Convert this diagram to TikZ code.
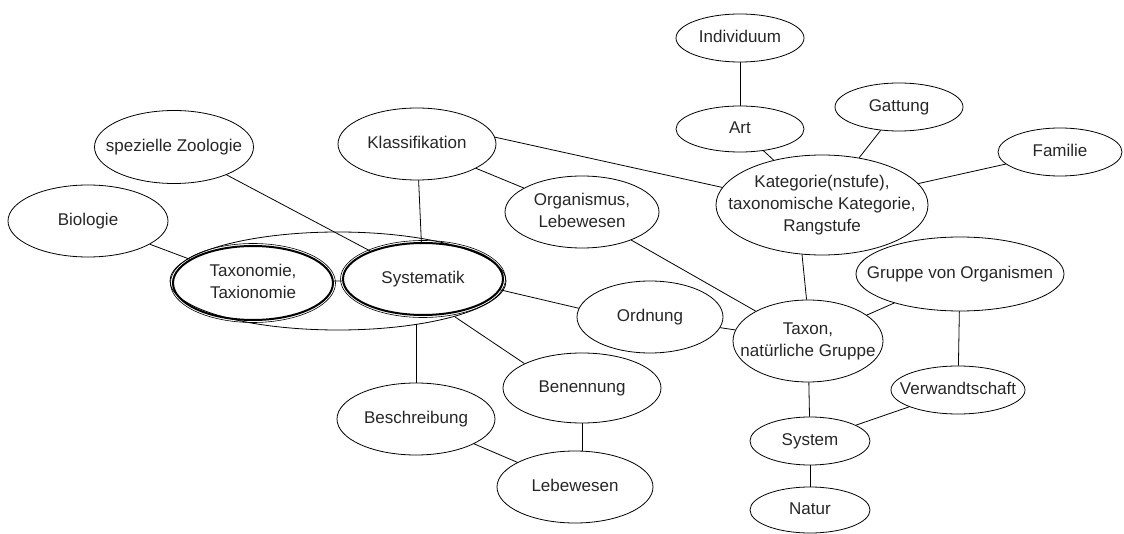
\documentclass[tikz,border=0pt]{standalone}
\usepackage{fontspec}
\setmainfont{Liberation Sans}
\usetikzlibrary{shapes.geometric}
\newcommand\nodetext[1]{\makebox[0pt]{\begin{tabular}{@{}c@{}}#1\end{tabular}}}
\tikzset{
  ell/.style 2 args={ellipse, draw, line width=0.8pt, inner sep=0pt,
    minimum width=#1pt, minimum height=#2pt,
    font=\fontsize{17}{22}\selectfont, text=black!85},
  boldell/.style={line width=2pt},
  ring/.style 2 args={ellipse, draw, line width=0.6pt, inner sep=0pt,
    minimum width=#1pt, minimum height=#2pt},
  conn/.style={line width=0.8pt},
}
\begin{document}
\begin{tikzpicture}[x=1pt,y=-1pt]
\useasboundingbox (0,0) rectangle (1124,534);
% nodes
\node[ell={128}{48}] (indiv) at (740,38) {\nodetext{Individuum}};
\node[ell={128}{46}] (art) at (740,129) {\nodetext{Art}};
\node[ell={128}{48}] (gatt) at (899,107) {\nodetext{Gattung}};
\node[ell={124}{48}] (fam) at (1060,152) {\nodetext{Familie}};
\node[ell={212}{100}] (kat) at (822,205) {\nodetext{Kategorie(nstufe),\\taxonomische Kategorie,\\Rangstufe}};
\node[ell={158}{72}] (klass) at (417,144) {\nodetext{Klassifikation}};
\node[ell={154}{72}] (org) at (582,212) {\nodetext{Organismus,\\Lebewesen}};
\node[ell={159}{73}] (spez) at (174,147) {\nodetext{spezielle Zoologie}};
\node[ell={160}{72}] (bio) at (88,221) {\nodetext{Biologie}};
\node[ell={336}{98}] (outer) at (338,281) {};
\node[ell={160}{74}, boldell] (taxo) at (253,283) {\nodetext{Taxonomie,\\Taxionomie}};
\node[ring={165}{79}] (taxoring) at (253,283) {};
\node[ell={160}{72}, boldell] (syst) at (423,279) {\raisebox{5pt}{\nodetext{Systematik}}};
\node[ring={165}{77}] (systring) at (423,279) {};
\node[ell={146}{72}] (ordn) at (650,317) {\nodetext{Ordnung}};
\node[ell={150}{82}] (taxon) at (808,341) {\nodetext{Taxon,\\natürliche Gruppe}};
\node[ell={208}{74}] (gruppe) at (960,274) {\nodetext{Gruppe von Organismen}};
\node[ell={134}{48}] (verw) at (958,390) {\nodetext{Verwandtschaft}};
\node[ell={120}{48}] (system) at (810,441) {\nodetext{System}};
\node[ell={120}{46}] (natur) at (810,510) {\nodetext{Natur}};
\node[ell={158}{70}] (benenn) at (582,388) {\nodetext{Benennung}};
\node[ell={158}{72}] (besch) at (416,419) {\nodetext{Beschreibung}};
\node[ell={156}{72}] (lebew) at (575,487) {\nodetext{Lebewesen}};
% connectors
\draw[conn] (indiv) -- (art);
\draw[conn] (art) -- (kat);
\draw[conn] (gatt) -- (kat);
\draw[conn] (fam) -- (kat);
\draw[conn] (klass.5) -- (kat.170);
\draw[conn] (klass) -- (org);
\draw[conn] (klass) -- (syst);
\draw[conn] (kat.-112) -- (taxon.92);
\draw[conn] (org) -- (taxon);
\draw[conn] (spez) -- (syst);
\draw[conn] (bio) -- (taxo);
\draw[conn] (taxo) -- (syst);
\draw[conn] (syst.-8) -- (ordn.173);
\draw[conn] (outer.-17) -- (benenn.157);
\draw[conn] (besch) -- (besch |- outer.-28);
\draw[conn] (benenn) -- (benenn |- lebew.north);
\draw[conn] (besch) -- (lebew);
\draw[conn] (ordn) -- (taxon);
\draw[conn] (taxon) -- (gruppe);
\draw[conn] (gruppe) -- (verw);
\draw[conn] (verw) -- (system);
\draw[conn] (taxon) -- (system);
\draw[conn] (system) -- (natur);
\end{tikzpicture}
\end{document}
